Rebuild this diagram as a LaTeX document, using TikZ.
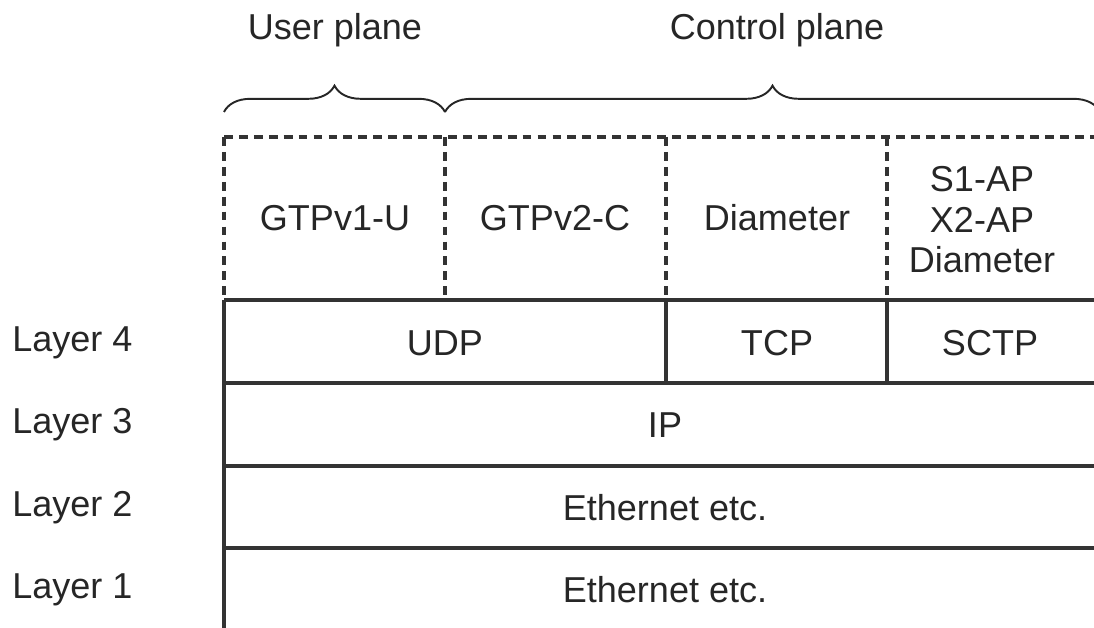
\documentclass[tikz,border=0pt]{standalone}
\usepackage{fontspec}
\setmainfont{Liberation Sans}
\usetikzlibrary{decorations.pathreplacing,calc}

\begin{document}
\begin{tikzpicture}[x=0.02cm,y=-0.02cm,
    lbl/.style={font=\fontsize{20.5}{23}\selectfont, text=black!85, align=center, inner sep=0pt},
    brace/.style={decorate, decoration={brace, amplitude=15pt}, line width=1.1pt}]
        \useasboundingbox (0,0) rectangle (1094,628);
        % Grid of the stack
        \coordinate (A0) at (224,137);
        \coordinate (A1) at (445,137);
        \coordinate (A2) at (666,137);
        \coordinate (A3) at (887,137);
        \coordinate (A4) at (1094,137);
        \coordinate (B0) at (224,300);
        \coordinate (B1) at (445,300);
        \coordinate (B2) at (666,300);
        \coordinate (B3) at (887,300);
        \coordinate (B4) at (1094,300);
        \coordinate (C0) at (224,383);
        \coordinate (C2) at (666,383);
        \coordinate (C3) at (887,383);
        \coordinate (C4) at (1094,383);
        \coordinate (D0) at (224,466);
        \coordinate (D4) at (1094,466);
        \coordinate (E0) at (224,548);
        \coordinate (E4) at (1094,548);
        \coordinate (F0) at (224,628);

        % The braces above the planes
        \coordinate (U0) at (224,112);
        \coordinate (U1) at (445,112);
        \coordinate (U2) at (1100,112);

        \node[lbl] (user) at (335,30) {User plane};
        \node[lbl] (ctrl) at (777,30) {Control plane};

        \node[lbl] (gtpu) at (335,218) {GTPv1-U};
        \node[lbl] (gtpc) at (555,218) {GTPv2-C};
        \node[lbl] (diam) at (777,218) {Diameter};
        \node[lbl] (ap) at (982,220) {S1-AP\\X2-AP\\Diameter};

        \node[lbl] (udp) at (445,343) {UDP};
        \node[lbl] (tcp) at (777,343) {TCP};
        \node[lbl] (sctp) at (990,343) {SCTP};
        \node[lbl] (ip) at (665,425) {IP};
        \node[lbl] (eth2) at (665,508) {Ethernet etc.};
        \node[lbl] (eth1) at (665,590) {Ethernet etc.};

        \node[lbl, anchor=west] (l4) at (12,343) {Layer 4};
        \node[lbl, anchor=west] (l3) at (12,425) {Layer 3};
        \node[lbl, anchor=west] (l2) at (12,508) {Layer 2};
        \node[lbl, anchor=west] (l1) at (12,590) {Layer 1};

        \begin{scope}[line width=2pt, draw=black!80]
            \draw (B0) -- (B4);
            \draw (C0) -- (C4);
            \draw (D0) -- (D4);
            \draw (E0) -- (E4);
            \draw (B0) -- (F0);
            \draw (B2) -- (C2);
            \draw (B3) -- (C3);
        \end{scope}

        \begin{scope}[line width=2pt, draw=black!80, dash pattern=on 5pt off 3.5pt]
            \draw (A0) -- (A4);
            \draw (A0) -- (B0);
            \draw (A1) -- (B1);
            \draw (A2) -- (B2);
            \draw (A3) -- (B3);
        \end{scope}

        \draw[brace, black!85] (U0) -- (U1);
        \draw[brace, black!85] (U1) -- (U2);

\end{tikzpicture}
\end{document}
